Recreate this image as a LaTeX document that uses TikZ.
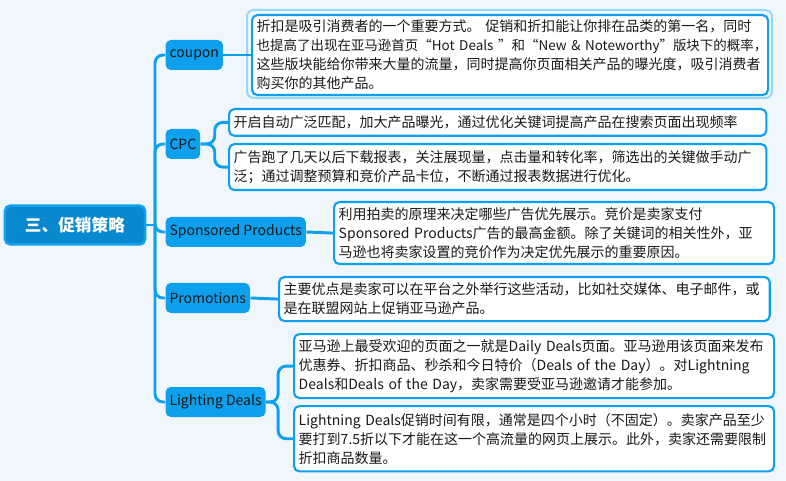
\documentclass[tikz,border=0pt]{standalone}
\usepackage{fontspec}
\setmainfont{Noto Sans CJK SC}
\usetikzlibrary{positioning}
\definecolor{bgblue}{RGB}{240,247,252}
\definecolor{mainblue}{RGB}{14,160,236}
\definecolor{rootblue}{RGB}{8,136,206}
\definecolor{glowblue}{RGB}{150,215,250}
\definecolor{txtdark}{RGB}{25,25,25}
\newcommand\nline[1]{\mbox{#1}}
\tikzset{every picture/.style={line width=0.75pt}}
\tikzset{
  link/.style={draw=mainblue,line width=2.2pt,rounded corners=6pt},
  catnode/.style={fill=mainblue,text=txtdark,rounded corners=4pt,inner sep=3pt,minimum height=22.5pt,anchor=west,font=\fontsize{10.5}{13}\selectfont},
  notebox/.style={draw=mainblue,line width=1.6pt,fill=white,rounded corners=4pt,inner xsep=3.5pt,inner ysep=2pt,anchor=north west,align=left,text=txtdark,font=\fontsize{10.5}{14.25}\selectfont},
}
\begin{document}
\begin{tikzpicture}[x=0.75pt,y=0.75pt,yscale=-1,xscale=1]
\fill[bgblue] (0,0) rectangle (786,481);
\useasboundingbox (0,0) rectangle (786,481);

% root
\node[fill=rootblue,draw=mainblue,line width=2pt,rounded corners=4pt,text=white,minimum width=105pt,minimum height=29pt,font=\fontsize{12.5}{15}\selectfont\bfseries] (root) at (75,225) {三、促销策略};

% categories
\node[catnode] (cpn) at (165,55) {coupon};
\node[catnode] (cpc) at (165,144) {CPC};
\node[catnode] (spd) at (165,232) {Sponsored Products};
\node[catnode] (pro) at (165,298) {Promotions};
\node[catnode] (ltd) at (165,402) {Lighting Deals};

% notes
\draw[glowblue,line width=1.5pt,rounded corners=5pt] (247,10) rectangle (772,98);
\node[notebox,text width=380pt,minimum height=60pt] (ncpn) at (251,14) {\nline{折扣是吸引消费者的一个重要方式。 促销和折扣能让你排在品类的第一名，同时}\\\nline{\fontsize{10.1}{14.25}\selectfont 也提高了出现在亚马逊首页“Hot Deals ”和“New \& Noteworthy”版块下的概率，}\\\nline{这些版块能给你带来大量的流量，同时提高你页面相关产品的曝光度，吸引消费者}\\\nline{购买你的其他产品。}};
\node[notebox,text width=396pt,minimum height=20pt] (ncpc1) at (228,108) {\nline{开启自动广泛匹配，加大产品曝光，通过优化关键词提高产品在搜索页面出现频率}};
\node[notebox,text width=396pt,minimum height=34.5pt] (ncpc2) at (228,143) {\nline{广告跑了几天以后下载报表，关注展现量，点击量和转化率，筛选出的关键做手动广}\\\nline{泛；通过调整预算和竞价产品卡位，不断通过报表数据进行优化。}};
\node[notebox,text width=323pt,minimum height=46.5pt] (nspd) at (333,201) {\nline{利用拍卖的原理来决定哪些广告优先展示。竞价是卖家支付}\\\nline{Sponsored Products广告的最高金额。除了关键词的相关性外，亚}\\\nline{马逊也将卖家设置的竞价作为决定优先展示的重要原因。}};
\node[notebox,text width=361pt,minimum height=33pt] (npro) at (278,276) {\nline{主要优点是卖家可以在平台之外举行这些活动，比如社交媒体、电子邮件，或}\\\nline{是在联盟网站上促销亚马逊产品。}};
\node[notebox,text width=353pt,minimum height=48pt] (nltd1) at (293,333) {\nline{亚马逊上最受欢迎的页面之一就是Daily Deals页面。亚马逊用该页面来发布}\\\nline{优惠券、折扣商品、秒杀和今日特价（Deals of the Day）。对Lightning}\\\nline{Deals和Deals of the Day，卖家需要受亚马逊邀请才能参加。}};
\node[notebox,text width=353pt,minimum height=49pt] (nltd2) at (293,405) {\nline{Lightning Deals促销时间有限，通常是四个小时（不固定）。卖家产品至少}\\\nline{要打到7.5折以下才能在这一个高流量的网页上展示。此外，卖家还需要限制}\\\nline{折扣商品数量。}};

% connectors
\coordinate (trunk) at (155,225);
\draw[link] (root.east) -- (trunk);
\foreach \c in {cpn,cpc,spd,pro,ltd}
  \draw[link] (trunk) |- (\c.west);
\draw[link] (cpn.east) -- (ncpn.west |- cpn.east);
\draw[link] (cpc.east) -- ++(14,0) |- (ncpc1.west);
\draw[link] (cpc.east) -- ++(14,0) |- (ncpc2.west);
\draw[link] (spd.east) -- (nspd.west);
\draw[link] (pro.east) -- (npro.west);
\draw[link] (ltd.east) -- ++(12,0) |- (nltd1.west);
\draw[link] (ltd.east) -- ++(12,0) |- (nltd2.west);
\end{tikzpicture}
\end{document}
